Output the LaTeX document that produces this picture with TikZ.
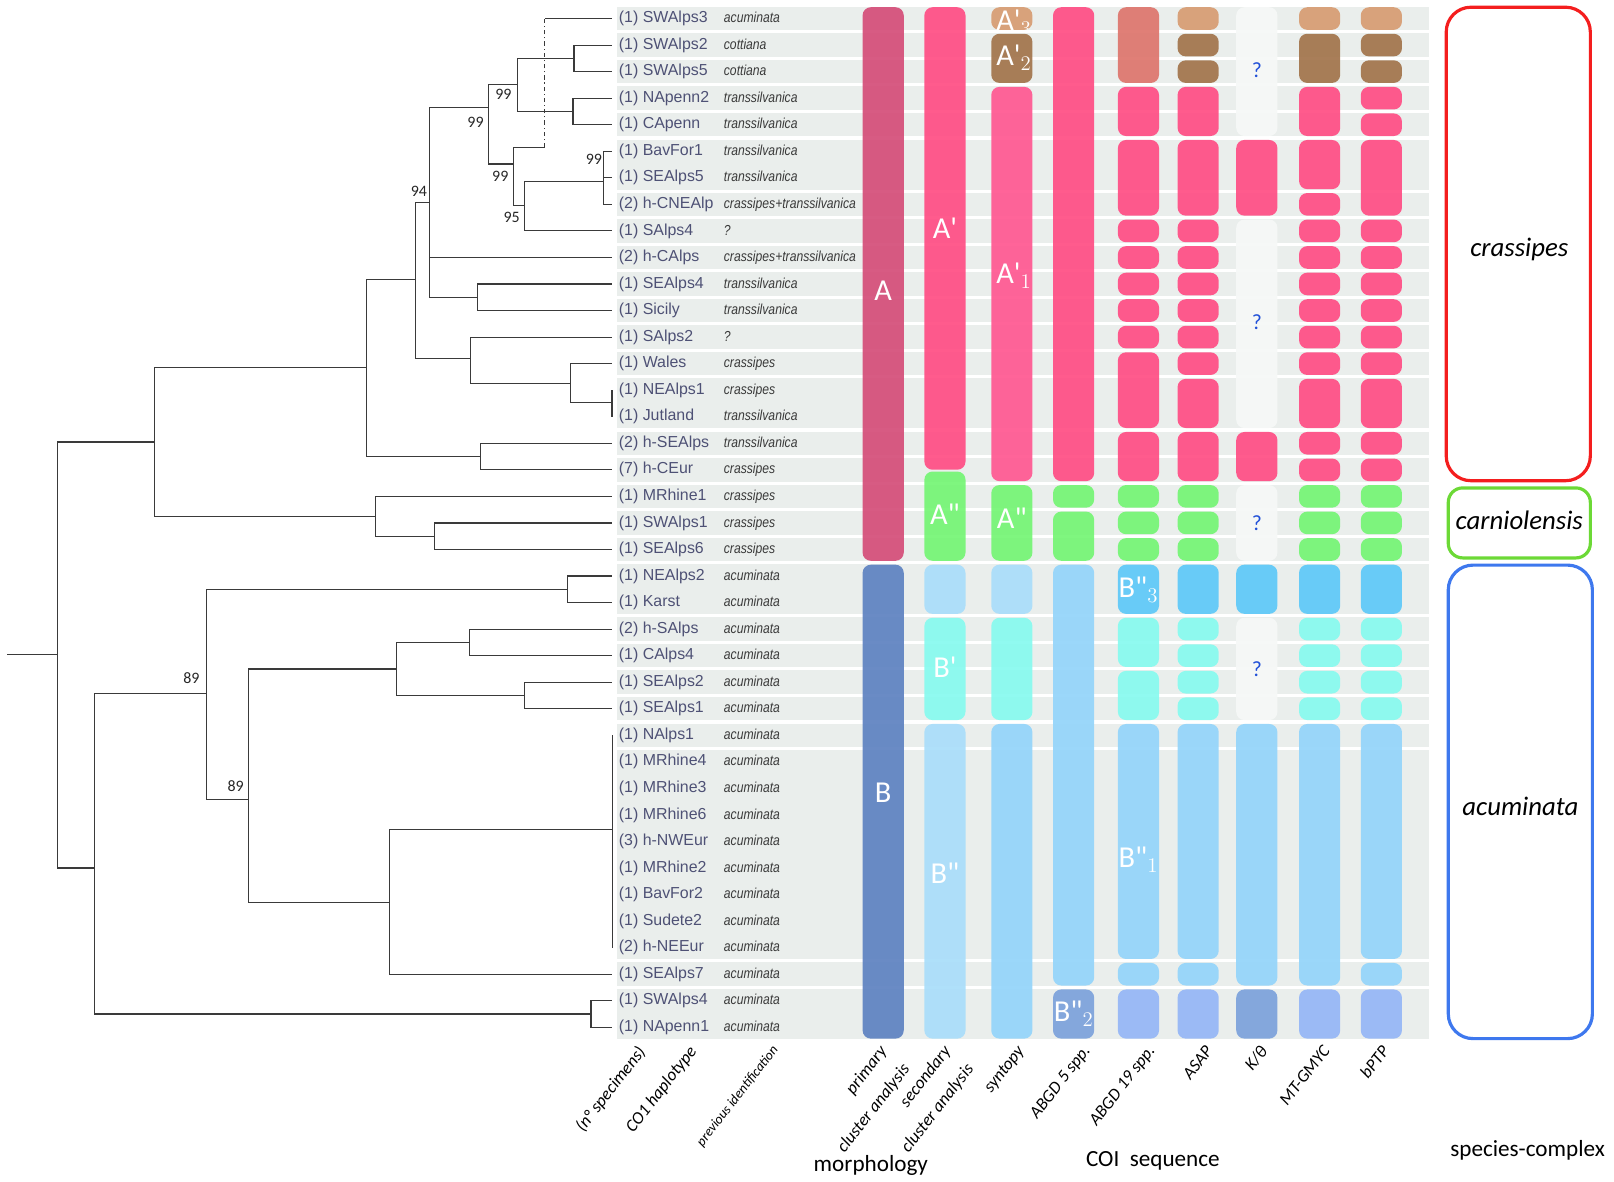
\documentclass[tikz,border=0pt]{standalone}
\usepackage{fontspec}
\setmainfont{Carlito}
\newfontfamily\hapfont{Liberation Sans}
\newfontfamily\idfont[FakeStretch=0.84]{Liberation Sans}
\usetikzlibrary{positioning}
\definecolor{bandgray}{HTML}{EAEEEC}
\definecolor{morphA}{HTML}{D5527C}
\definecolor{morphB}{HTML}{6285C2}
\definecolor{pinkc}{HTML}{FF5287}
\definecolor{pinkl}{HTML}{FF5C94}
\definecolor{greenc}{HTML}{78F578}
\definecolor{paleblue}{HTML}{ABDEFA}
\definecolor{cyanc}{HTML}{8AFAEF}
\definecolor{skyc}{HTML}{96D5FA}
\definecolor{bluec}{HTML}{62CAF8}
\definecolor{periw}{HTML}{97B8F6}
\definecolor{periwd}{HTML}{7FA4DC}
\definecolor{tanc}{HTML}{D89E75}
\definecolor{brownc}{HTML}{A47750}
\definecolor{coralc}{HTML}{DE7870}
\definecolor{ghostc}{HTML}{F6F8F7}
\definecolor{hapc}{HTML}{4E5175}
\definecolor{identc}{HTML}{3A3A3A}
\definecolor{treec}{HTML}{3A3A3A}
\definecolor{qblue}{HTML}{2150D8}
\definecolor{cplxred}{HTML}{F41E1E}
\definecolor{cplxgreen}{HTML}{6CD936}
\definecolor{cplxblue}{HTML}{3E78EE}
\newcommand{\ry}[1]{18+(#1-1)*25.79}

\begin{document}
\begin{tikzpicture}[
  x=0.25mm,
  y=-0.25mm,
  branch/.style={draw=treec, line width=0.8pt},
  hap/.style={anchor=west, inner sep=0pt, text=hapc, text height=1.6ex, text depth=0.4ex, font=\hapfont\fontsize{11}{13}\selectfont},
  ident/.style={anchor=west, inner sep=0pt, text=identc, text height=1.6ex, text depth=0.4ex, font=\idfont\itshape\fontsize{10}{12}\selectfont},
  boot/.style={inner sep=0pt, text=black!85, font=\fontsize{11}{13}\selectfont},
  cell/.style={rounded corners=2mm, opacity=0.95},
  clu/.style={text=white, inner sep=0pt, font=\fontsize{21}{24}\selectfont},
  unk/.style={text=qblue, inner sep=0pt, font=\fontsize{15}{18}\selectfont},
  axis/.style={rotate=52, anchor=north east, inner sep=0pt, align=right, font=\itshape\fontsize{12}{15}\selectfont},
  grp/.style={inner sep=0pt, font=\fontsize{16}{19}\selectfont},
  cplx/.style={line width=2.2pt, rounded corners=6mm},
  cname/.style={inner sep=0pt, font=\itshape\fontsize{18.5}{22}\selectfont}
]
\useasboundingbox (0,0) rectangle (1568,1148);

\foreach \a/\b in {1/1,2/2,3/3,4/4,5/5,6/7,8/8,9/9,10/10,11/11,12/12,13/13,14/14,15/16,17/17,18/18,19/19,20/20,21/21,22/23,24/24,25/25,26/26,27/27,28/28,29/36,37/37,38/39}
  \fill[bandgray] (599,{\ry{\a}-11.4}) rectangle (1388,{\ry{\b}+11.4});

\foreach \i/\nn/\hp/\sp in {1/1/SWAlps3/acuminata, 2/1/SWAlps2/cottiana, 3/1/SWAlps5/cottiana, 4/1/NApenn2/transsilvanica, 5/1/CApenn/transsilvanica, 6/1/BavFor1/transsilvanica, 7/1/SEAlps5/transsilvanica, 8/2/h-CNEAlp/crassipes+transsilvanica, 9/1/SAlps4/?, 10/2/h-CAlps/crassipes+transsilvanica, 11/1/SEAlps4/transsilvanica, 12/1/Sicily/transsilvanica, 13/1/SAlps2/?, 14/1/Wales/crassipes, 15/1/NEAlps1/crassipes, 16/1/Jutland/transsilvanica, 17/2/h-SEAlps/transsilvanica, 18/7/h-CEur/crassipes, 19/1/MRhine1/crassipes, 20/1/SWAlps1/crassipes, 21/1/SEAlps6/crassipes, 22/1/NEAlps2/acuminata, 23/1/Karst/acuminata, 24/2/h-SAlps/acuminata, 25/1/CAlps4/acuminata, 26/1/SEAlps2/acuminata, 27/1/SEAlps1/acuminata, 28/1/NAlps1/acuminata, 29/1/MRhine4/acuminata, 30/1/MRhine3/acuminata, 31/1/MRhine6/acuminata, 32/3/h-NWEur/acuminata, 33/1/MRhine2/acuminata, 34/1/BavFor2/acuminata, 35/1/Sudete2/acuminata, 36/2/h-NEEur/acuminata, 37/1/SEAlps7/acuminata, 38/1/SWAlps4/acuminata, 39/1/NApenn1/acuminata}{
  \coordinate (t\i) at (595,{\ry{\i}});
  \node[hap] (h\i) at (601,{\ry{\i}}) {(\nn) \hp};
  \node[ident] (s\i) at (703,{\ry{\i}}) {\sp};
}

\foreach \x/\a/\b/\c in {
  858/1/21/morphA, 858/22/39/morphB,
  918/1/17.57/pinkc, 918/18.49/21/greenc, 918/22/23/paleblue, 918/24/27/cyanc, 918/28/39/paleblue,
  983/1/1/tanc, 983/2/3/brownc, 983/4/18/pinkl, 983/19/21/greenc, 983/22/23/paleblue, 983/24/27/cyanc, 983/28/39/skyc,
  1043/1/18/pinkc, 1043/19/19/greenc, 1043/20/21/greenc, 1043/22/37/skyc, 1043/38/39/periwd,
  1106/1/3/coralc, 1106/4/5/pinkc, 1106/6/8/pinkc, 1106/9/9/pinkc, 1106/10/10/pinkc, 1106/11/11/pinkc, 1106/12/12/pinkc, 1106/13/13/pinkc, 1106/14/16/pinkc, 1106/17/18/pinkc, 1106/19/19/greenc, 1106/20/20/greenc, 1106/21/21/greenc, 1106/22/23/bluec, 1106/24/25/cyanc, 1106/26/27/cyanc, 1106/28/36/skyc, 1106/37/37/skyc, 1106/38/39/periw,
  1164/1/1/tanc, 1164/2/2/brownc, 1164/3/3/brownc, 1164/4/5/pinkc, 1164/6/8/pinkc, 1164/9/9/pinkc, 1164/10/10/pinkc, 1164/11/11/pinkc, 1164/12/12/pinkc, 1164/13/13/pinkc, 1164/14/14/pinkc, 1164/15/16/pinkc, 1164/17/18/pinkc, 1164/19/19/greenc, 1164/20/20/greenc, 1164/21/21/greenc, 1164/22/23/bluec, 1164/24/24/cyanc, 1164/25/25/cyanc, 1164/26/26/cyanc, 1164/27/27/cyanc, 1164/28/36/skyc, 1164/37/37/skyc, 1164/38/39/periw,
  1221/1/5/ghostc, 1221/6/8/pinkc, 1221/9/16/ghostc, 1221/17/18/pinkc, 1221/19/21/ghostc, 1221/22/23/bluec, 1221/24/27/ghostc, 1221/28/37/skyc, 1221/38/39/periwd,
  1282/1/1/tanc, 1282/2/3/brownc, 1282/4/5/pinkc, 1282/6/7/pinkc, 1282/8/8/pinkc, 1282/9/9/pinkc, 1282/10/10/pinkc, 1282/11/11/pinkc, 1282/12/12/pinkc, 1282/13/13/pinkc, 1282/14/14/pinkc, 1282/15/16/pinkc, 1282/17/17/pinkc, 1282/18/18/pinkc, 1282/19/19/greenc, 1282/20/20/greenc, 1282/21/21/greenc, 1282/22/23/bluec, 1282/24/24/cyanc, 1282/25/25/cyanc, 1282/26/26/cyanc, 1282/27/27/cyanc, 1282/28/37/skyc, 1282/38/39/periw,
  1342/1/1/tanc, 1342/2/2/brownc, 1342/3/3/brownc, 1342/4/4/pinkc, 1342/5/5/pinkc, 1342/6/8/pinkc, 1342/9/9/pinkc, 1342/10/10/pinkc, 1342/11/11/pinkc, 1342/12/12/pinkc, 1342/13/13/pinkc, 1342/14/14/pinkc, 1342/15/16/pinkc, 1342/17/17/pinkc, 1342/18/18/pinkc, 1342/19/19/greenc, 1342/20/20/greenc, 1342/21/21/greenc, 1342/22/23/bluec, 1342/24/24/cyanc, 1342/25/25/cyanc, 1342/26/26/cyanc, 1342/27/27/cyanc, 1342/28/36/skyc, 1342/37/37/skyc, 1342/38/39/periw}
  \fill[cell, fill=\c] ({\x-20},{\ry{\a}-11}) rectangle ({\x+20},{\ry{\b}+11});

\node[clu] (lA) at (858,282) {A};
\node[clu] (lB) at (858,770) {B};
\node[clu] (lA1s) at (918,222) {A\textquotesingle};
\node[clu] (lA2s) at (918,500) {A\textquotedbl};
\node[clu] (lB1s) at (918,648) {B\textquotesingle};
\node[clu] (lB2s) at (918,848) {B\textquotedbl};
\begin{scope}
  \clip[rounded corners=2mm] (963,{\ry{1}-11}) rectangle (1003,{\ry{1}+11});
  \node[clu] (lA13) at (985,22) {A\textquotesingle$_3$};
\end{scope}
\node[clu] (lA12) at (985,56) {A\textquotesingle$_2$};
\node[clu] (lA11) at (985,268) {A\textquotesingle$_1$};
\node[clu] (lA2y) at (983,503) {A\textquotedbl};
\node[clu] (lB23) at (1106,573) {B\textquotedbl$_3$};
\node[clu] (lB21) at (1106,835) {B\textquotedbl$_1$};
\node[clu] (lB22) at (1043,985) {B\textquotedbl$_2$};

\node[unk] (q1) at (1221,68) {?};
\node[unk] (q2) at (1221,313) {?};
\node[unk] (q3) at (1221,508) {?};
\node[unk] (q4) at (1221,650) {?};

\coordinate (rootin) at (7,{\ry{24.95}});
\coordinate (root) at (55.7,{\ry{24.95}});
\coordinate (nup) at (149.8,{\ry{16.95}});
\coordinate (ncra) at (356,{\ry{14.15}});
\coordinate (ncar) at (364.9,{\ry{19.75}});
\coordinate (ncar2) at (422.5,{\ry{20.5}});
\coordinate (n94) at (403.3,{\ry{10.83}});
\coordinate (nA) at (417.5,{\ry{7.92}});
\coordinate (nB) at (474.4,{\ry{4.36}});
\coordinate (nV) at (502.8,{\ry{3.48}});
\coordinate (nW) at (557.7,{\ry{2.5}});
\coordinate (nX) at (556.6,{\ry{4.5}});
\coordinate (nU) at (498.6,{\ry{6.48}});
\coordinate (njmp0) at (529.3,{\ry{5.85}});
\coordinate (njmp1) at (529.3,{\ry{1}});
\coordinate (nT) at (509.7,{\ry{8.03}});
\coordinate (nS) at (586.5,{\ry{7.15}});
\coordinate (n1112) at (463.6,{\ry{11.5}});
\coordinate (nQ) at (457.1,{\ry{13.81}});
\coordinate (nR) at (554.6,{\ry{14.75}});
\coordinate (nbar1516) at (595,{\ry{15.45}});
\coordinate (n1718) at (466.7,{\ry{17.5}});
\coordinate (nlo) at (92.2,{\ry{33}});
\coordinate (nM) at (200.9,{\ry{26.42}});
\coordinate (n2223) at (551.2,{\ry{22.5}});
\coordinate (nN) at (241.6,{\ry{30.42}});
\coordinate (nO) at (385.3,{\ry{25.5}});
\coordinate (n2425) at (455.9,{\ry{24.5}});
\coordinate (n2627) at (509.7,{\ry{26.5}});
\coordinate (nZ) at (378.4,{\ry{34.3}});
\coordinate (nbar2836) at (595,{\ry{31.55}});
\coordinate (n3839) at (574.2,{\ry{38.5}});

\draw[branch] (rootin) -- (root);
\foreach \p/\c in {root/nup, root/nlo, nup/ncra, nup/ncar, ncra/n94, ncra/n1718, n94/nA, n94/nQ, nA/nB, nA/t10, nA/n1112, nB/nV, nB/nU, nV/nW, nV/nX, nW/t2, nW/t3, nX/t4, nX/t5, nU/njmp0, nU/nT, nT/nS, nT/t9, nS/t6, nS/t7, nS/t8, n1112/t11, n1112/t12, nQ/t13, nQ/nR, nR/t14, nR/nbar1516, n1718/t17, n1718/t18, ncar/t19, ncar/ncar2, ncar2/t20, ncar2/t21, nlo/nM, nlo/n3839, nM/n2223, nM/nN, n2223/t22, n2223/t23, nN/nO, nN/nZ, nO/n2425, nO/n2627, n2425/t24, n2425/t25, n2627/t26, n2627/t27, nZ/nbar2836, nZ/t37, n3839/t38, n3839/t39}
  \draw[branch] (\p) |- (\c);
\draw[branch, dash dot] (njmp0) -- (njmp1);
\draw[branch] (njmp1) -- (t1);
\draw[branch, line width=1.4pt] (t15) -- (t16);
\draw[branch, line width=1.1pt] (t28) -- (t36);

\node[boot] (bV) at (489,92) {99};
\node[boot] (bB) at (462,119) {99};
\node[boot] (bU) at (486,171) {99};
\node[boot] (bS) at (577,155) {99};
\node[boot] (bT) at (497,211) {95};
\node[boot] (bA) at (407,186) {94};
\node[boot] (bM) at (186,659) {89};
\node[boot] (bN) at (229,764) {89};

\draw[cplx, cplxred] (1405,7) rectangle (1545,467);
\draw[cplx, cplxgreen, rounded corners=3.5mm] (1407,474) rectangle (1545,542);
\draw[cplx, cplxblue] (1407,549) rectangle (1547,1009);
\node[cname] (ccra) at (1476,242) {crassipes};
\node[cname] (ccar) at (1476,505) {carniolensis};
\node[cname] (cacu) at (1477,783) {acuminata};

\node[axis] (xn) at (618,1014) {(n° specimens)};
\node[axis] (xh) at (668,1014) {CO1 haplotype};
\node[axis, font=\itshape\fontsize{9.5}{12}\selectfont] (xp) at (749,1014) {previous identification};
\node[axis] (xm1) at (853,1014) {primary\\[5pt]cluster analysis};
\node[axis] (xm2) at (915,1014) {secondary\\[5pt]cluster analysis};
\node[axis] (xs) at (987,1014) {syntopy};
\node[axis] (xa5) at (1051,1014) {ABGD 5 spp.};
\node[axis] (xa19) at (1114,1014) {ABGD 19 spp.};
\node[axis] (xas) at (1170,1014) {ASAP};
\node[axis] (xk) at (1223,1014) {K/θ};
\node[axis] (xg) at (1284,1014) {MT-GMYC};
\node[axis] (xb) at (1341,1014) {bPTP};

\node[grp] (gm) at (846,1132) {morphology};
\node[grp] (gc) at (1120,1128) {COI\hspace{0.45em}sequence};
\node[grp] (gs) at (1484,1118) {species-complex};
\end{tikzpicture}
\end{document}
